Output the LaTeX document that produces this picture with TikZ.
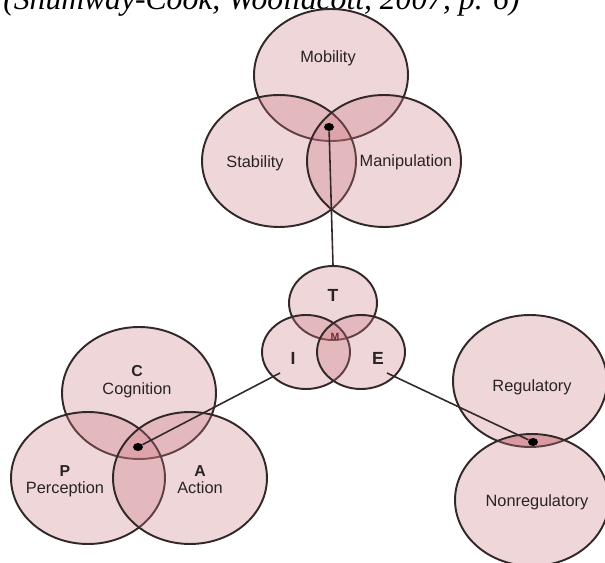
\documentclass[tikz,border=0pt]{standalone}
\usepackage{fontspec}
\setmainfont{Liberation Serif}
\setsansfont{Liberation Sans}
\usepackage{tikz}
\usetikzlibrary{shapes.geometric}
\definecolor{petal}{RGB}{205,120,130}
\definecolor{rim}{RGB}{50,40,40}
\definecolor{ink}{RGB}{40,36,36}
\definecolor{mred}{RGB}{110,45,50}

\begin{document}
\begin{tikzpicture}[x=0.02cm, y=-0.02cm]

        % 1. Frame of the scanned figure (the source line is cut at the top)
        \clip (0,0) rectangle (605,563);
        \fill[white] (0,0) rectangle (605,563);

        \tikzset{trio/.style={ellipse, draw=rim, line width=1.1pt, fill=petal, fill opacity=0.3, inner sep=0pt, minimum width=3.08cm, minimum height=2.64cm}}
        \tikzset{tie/.style={trio, minimum width=1.76cm, minimum height=1.48cm}}
        \tikzset{word/.style={text=ink, inner sep=0pt, font=\sffamily\fontsize{9.3}{11}\selectfont}}
        \tikzset{letter/.style={word, font=\sffamily\bfseries\fontsize{9}{10}\selectfont}}
        \tikzset{dot/.style={ellipse, fill=black, inner sep=0pt, minimum width=0.2cm, minimum height=0.16cm}}
        \tikzset{link/.style={draw=rim, line width=0.9pt}}

        \node[anchor=base west, inner sep=0pt, font=\itshape\fontsize{18}{20}\selectfont] (source) at (3,10) {(Shumway-Cook, Woollacott, 2007, p. 6)};

        % 2. Darker lens between Regulatory and Nonregulatory
        \begin{scope}
            \clip (530,381) ellipse [x radius=1.54cm, y radius=1.32cm];
            \fill[petal, opacity=0.45] (532,500) ellipse [x radius=1.54cm, y radius=1.3cm];
        \end{scope}

        % 3. The circles
        % Task: mobility, stability, manipulation
        \node[trio] (mobility) at (331,75) {};
        \node[trio] (stability) at (279,161) {};
        \node[trio] (manipulation) at (384,161) {};

        % Task, individual, environment
        \node[tie] (tee) at (333,303) {};
        \node[tie] (eye) at (306,352) {};
        \node[tie] (env) at (361,352) {};

        % Individual: cognition, perception, action
        \node[trio] (cognition) at (139,393) {};
        \node[trio] (perception) at (88,478) {};
        \node[trio] (action) at (190,478) {};

        % Environment: regulatory, nonregulatory
        \node[trio] (regulatory) at (530,381) {};
        \node[trio] (nonregulatory) at (532,500) {};

        % 4. Dots and the lines that join them
        \node[dot] (mdot) at (329,127) {};
        \node[dot] (cdot) at (138,447) {};
        \node[dot] (rdot) at (533,442) {};

        \coordinate (ifoot) at (280,373);
        \coordinate (efoot) at (387,373);

        \draw[link] (mdot) -- (tee.north);
        \draw[link] (ifoot) -- (cdot);
        \draw[link] (efoot) -- (rdot);

        % 5. Labels
        \node[word] (mobtext) at (328,58) {Mobility};
        \node[word] (stabtext) at (255,163) {Stability};
        \node[word] (maniptext) at (406,162) {Manipulation};

        \node[letter, font=\sffamily\bfseries\fontsize{10}{11}\selectfont] (ttext) at (333,295) {T};
        \node[letter, font=\sffamily\bfseries\fontsize{10}{11}\selectfont] (itext) at (293,358) {I};
        \node[letter, font=\sffamily\bfseries\fontsize{10}{11}\selectfont] (etext) at (378,358) {E};
        \node[letter, text=mred, font=\sffamily\bfseries\fontsize{6}{7}\selectfont] (mtext) at (335,337) {M};

        \node[letter] (ctext) at (137,371) {C};
        \node[word] (cogtext) at (137,390) {Cognition};
        \node[letter] (ptext) at (65,471) {P};
        \node[word] (pertext) at (65,489) {Perception};
        \node[letter] (atext) at (200,471) {A};
        \node[word] (acttext) at (200,488) {Action};

        \node[word] (regtext) at (532,387) {Regulatory};
        \node[word] (nonregtext) at (537,502) {Nonregulatory};

\end{tikzpicture}
\end{document}
